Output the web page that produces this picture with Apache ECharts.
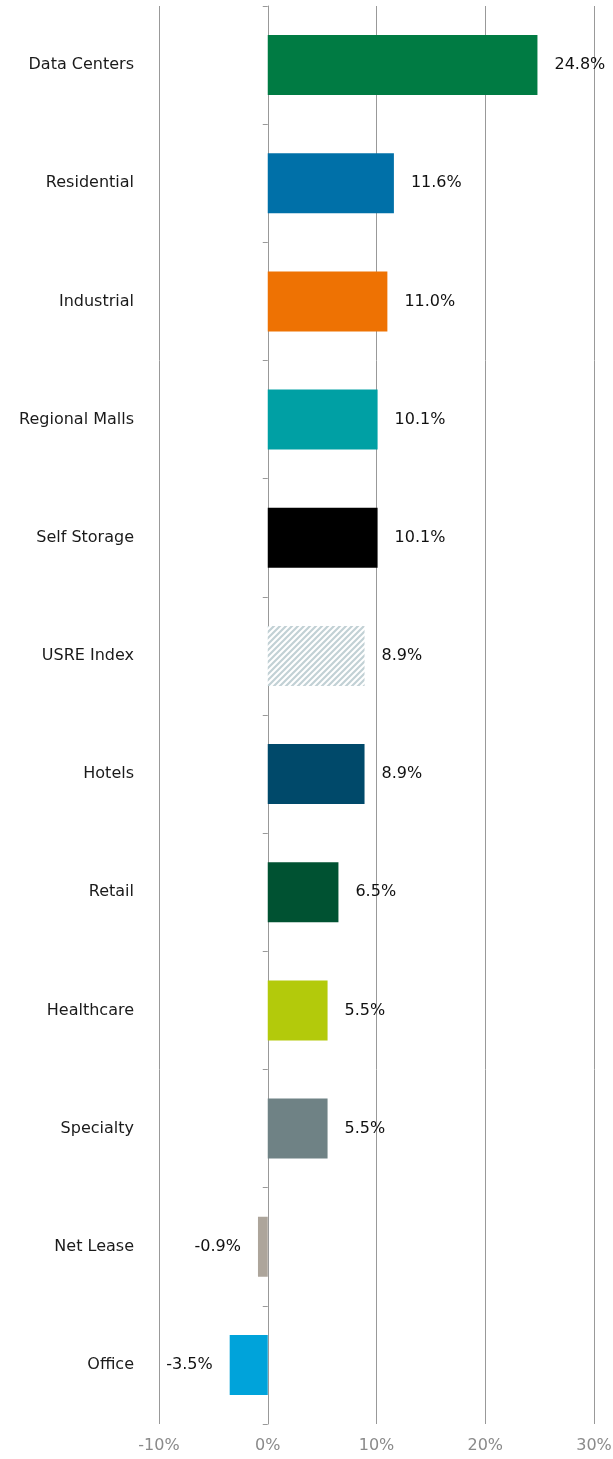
<!DOCTYPE html>
<html>
<head>
<meta charset="utf-8">
<script src="https://cdn.jsdelivr.net/npm/echarts@6/dist/echarts.min.js"></script>
<style>
  html, body { margin: 0; padding: 0; background: #fff; }
  #main { width: 613px; height: 1459px; }
</style>
</head>
<body>
<div id="main"></div>
<script>
// sectors, top to bottom
var sectors = ['Data Centers', 'Residential', 'Industrial', 'Regional Malls', 'Self Storage',
  'USRE Index', 'Hotels', 'Retail', 'Healthcare', 'Specialty', 'Net Lease', 'Office'];
var returns = [24.8, 11.6, 11.0, 10.1, 10.1, 8.9, 8.9, 6.5, 5.5, 5.5, -0.9, -3.5];
var barColors = ['#007b43', '#0070a8', '#ee7203', '#00a0a4', '#000000', 'hatch',
  '#00496a', '#005232', '#b3ca0b', '#6f8285', '#ada59b', '#00a3da'];
var xTicks = [-10, 0, 10, 20, 30];

var myChart = echarts.init(document.getElementById('main'));

// diagonal stripes for the index bar
function hatchPattern() {
  var c = document.createElement('canvas');
  c.width = 6;
  c.height = 6;
  var ctx = c.getContext('2d');
  ctx.fillStyle = '#ffffff';
  ctx.fillRect(0, 0, 6, 6);
  ctx.strokeStyle = '#c2d1d5';
  ctx.lineWidth = 2.2;
  ctx.beginPath();
  ctx.moveTo(-1, 7); ctx.lineTo(7, -1);
  ctx.moveTo(-4, 4); ctx.lineTo(4, -4);
  ctx.moveTo(2, 10); ctx.lineTo(10, 2);
  ctx.stroke();
  return { image: c, repeat: 'repeat' };
}

var barData = [];
for (var i = 0; i < returns.length; i++) {
  var col = barColors[i] == 'hatch' ? hatchPattern() : barColors[i];
  barData.push({
    value: returns[i],
    itemStyle: { color: col },
    label: { position: returns[i] < 0 ? 'left' : 'right' }
  });
}

var font = 'DejaVu Sans';

var option = {
  animation: false,
  grid: { left: 159, right: 19, top: 6, bottom: 35, containLabel: false, outerBoundsMode: 'none' },
  xAxis: {
    type: 'value',
    min: xTicks[0],
    max: xTicks[xTicks.length - 1],
    interval: 10,
    axisLine: { show: false },
    axisTick: { show: false },
    splitLine: { show: true, lineStyle: { color: '#999999', width: 1 } },
    axisLabel: {
      margin: 14,
      color: '#8a8a8a',
      fontFamily: font,
      fontSize: 16,
      formatter: function (v) { return v + '%'; }
    }
  },
  yAxis: {
    type: 'category',
    inverse: true,
    data: sectors,
    axisLine: { show: true, onZero: true, lineStyle: { color: '#999999', width: 1 } },
    axisTick: { show: true, length: 5, lineStyle: { color: '#999999' } },
    axisLabel: {
      margin: 25,
      color: '#1a1a1a',
      fontFamily: font,
      fontSize: 16
    }
  },
  series: [{
    type: 'bar',
    barWidth: 60,
    data: barData,
    label: {
      show: true,
      distance: 17,
      color: '#111111',
      fontFamily: font,
      fontSize: 16,
      formatter: function (p) { return p.value.toFixed(1) + '%'; }
    }
  }]
};
myChart.setOption(option);
</script>
</body>
</html>
